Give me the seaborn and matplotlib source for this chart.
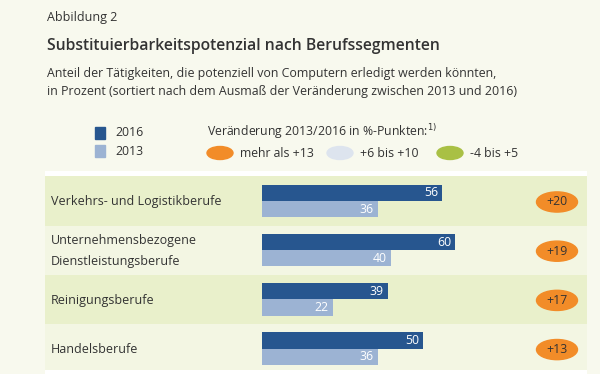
import matplotlib
matplotlib.use('Agg')
import matplotlib.pyplot as plt
import matplotlib.transforms as mtransforms
from matplotlib.patches import Ellipse, Rectangle
from matplotlib import font_manager
import pandas as pd
import seaborn as sns

# Data
berufe = ['Verkehrs- und Logistikberufe',
          'Unternehmensbezogene\nDienstleistungsberufe',
          'Reinigungsberufe',
          'Handelsberufe']
werte_2016 = [56, 60, 39, 50]
werte_2013 = [36, 40, 22, 36]
veraenderung = [20, 19, 17, 13]
jahre = ['2016', '2013']
klassen = ['mehr als +13', '+6 bis +10', '-4 bis +5']

# Colours
bg = '#f8f9ee'
band_colors = ['#e9f0cb', '#f3f6e3']
dark_blue = '#27568f'
light_blue = '#9cb3d3'
class_colors = ['#f28c28', '#dde4ee', '#a9c044']
txt = '#333333'

# pick a narrow-ish font if available
installed = {f.name for f in font_manager.fontManager.ttflist}
font = 'DejaVu Sans'
for cand in ['Liberation Sans Narrow', 'Open Sans', 'Noto Sans']:
    if cand in installed:
        font = cand
        break

sns.set_theme(style='white')
plt.rcParams['font.family'] = [font, 'DejaVu Sans']

df = pd.DataFrame({
    'Beruf': berufe * 2,
    'Jahr': ['2016'] * 4 + ['2013'] * 4,
    'Wert': werte_2016 + werte_2013,
})

fig = plt.figure(figsize=(6, 3.74), dpi=100, facecolor=bg)

# Header texts
fig.text(47 / 600, 1 - 18 / 374, 'Abbildung 2', fontsize=9, color=txt, va='center')
fig.text(47 / 600, 1 - 46 / 374, 'Substituierbarkeitspotenzial nach Berufssegmenten',
         fontsize=11.3, color=txt, va='center', fontweight='semibold')
fig.text(47 / 600, 1 - 73 / 374,
         'Anteil der Tätigkeiten, die potenziell von Computern erledigt werden könnten,',
         fontsize=8.95, color=txt, va='center')
fig.text(47 / 600, 1 - 91 / 374,
         'in Prozent (sortiert nach dem Ausmaß der Veränderung zwischen 2013 und 2016)',
         fontsize=8.95, color=txt, va='center')

# Legend: years
for i, (jahr, col) in enumerate(zip(jahre, [dark_blue, light_blue])):
    yc = 133 + i * 18
    fig.patches.append(Rectangle((95 / 600, 1 - (yc + 6) / 374), 10 / 600, 12 / 374,
                                 transform=fig.transFigure, color=col))
    fig.text(115 / 600, 1 - yc / 374, jahr, fontsize=8.8, color=txt, va='center')

# Legend: change classes
fig.text(207 / 600, 1 - 132 / 374, 'Veränderung 2013/2016 in %-Punkten:$^{1)}$',
         fontsize=8.8, color=txt, va='center')
oval_x = [220, 340, 450]
for xc, lab, col in zip(oval_x, klassen, class_colors):
    fig.patches.append(Ellipse((xc / 600, 1 - 153 / 374), 26 / 600, 13 / 374,
                               transform=fig.transFigure, color=col))
    fig.text((xc + 20) / 600, 1 - 153 / 374, lab, fontsize=8.8, color=txt, va='center')

# Main panel
ax = fig.add_axes([45 / 600, 0, 542 / 600, 203 / 374])
ax.set_facecolor('white')
for i in range(len(berufe)):
    ax.axhspan(i - 0.5, i + 0.5 if i < len(berufe) - 1 else i + 0.44,
               color=band_colors[i % 2], lw=0, zorder=0)

sns.barplot(data=df, y='Beruf', x='Wert', hue='Jahr', hue_order=jahre,
            palette=[dark_blue, light_blue], orient='h', width=0.66,
            errorbar=None, saturation=1, linewidth=0, legend=False, ax=ax)

# value labels inside bars
for cont in ax.containers:
    for bar in cont:
        w = bar.get_width()
        ax.annotate(f'{w:.0f}', (w, bar.get_y() + bar.get_height() / 2),
                    xytext=(-3, 0), textcoords='offset points',
                    ha='right', va='center', color='white', fontsize=8.8)

# category labels
tr = mtransforms.blended_transform_factory(ax.transAxes, ax.transData)
for i, b in enumerate(berufe):
    ax.text(6 / 542, i + 0.02, b, transform=tr, ha='left', va='center',
            fontsize=9, color=txt, linespacing=1.75)

# change ovals
for i, v in enumerate(veraenderung):
    ax.add_patch(Ellipse((512 / 542, i + 0.02), 41 / 542, 0.41, transform=tr,
                         color=class_colors[0], zorder=3))
    ax.text(512 / 542, i + 0.02, f'+{v}', transform=tr, ha='center', va='center',
            fontsize=8.8, color=txt, zorder=4)

ax.set_xlim(-(262 - 45) / 3.22, (587 - 262) / 3.22)
ax.set_ylim((374 - 201) / 49.2, -(201 - 171) / 49.2)
ax.set_xticks([])
ax.set_yticks([])
ax.set_xlabel('')
ax.set_ylabel('')
for s in ax.spines.values():
    s.set_visible(False)

fig.savefig('out.png', dpi=100, facecolor=bg)
